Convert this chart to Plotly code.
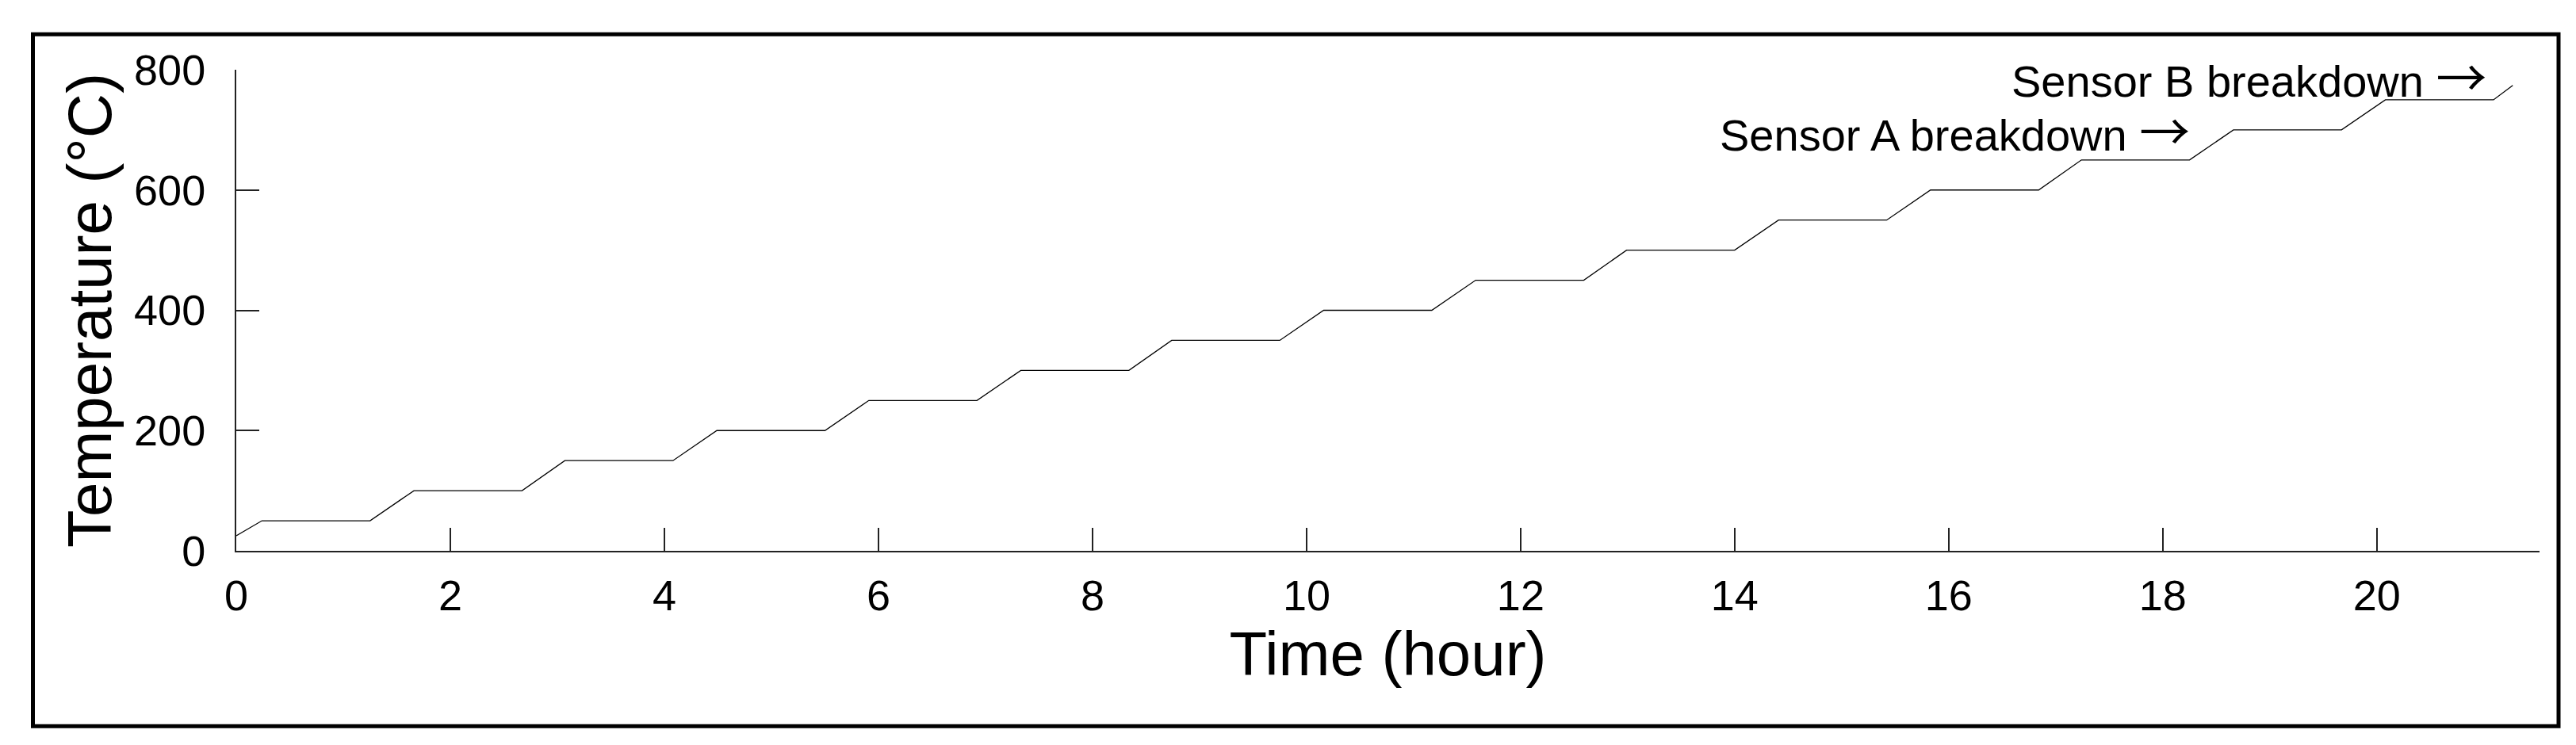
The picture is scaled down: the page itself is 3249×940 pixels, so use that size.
import plotly.graph_objects as go

# step-wise heating profile
time_hour = [0, 0.24, 1.25, 1.66, 2.67, 3.07, 4.08, 4.49, 5.50, 5.91, 6.92,
             7.33, 8.34, 8.74, 9.75, 10.16, 11.17, 11.58, 12.59, 12.99, 14.00,
             14.41, 15.42, 15.83, 16.84, 17.24, 18.25, 18.66, 19.67, 20.08, 21.09, 21.27]
temperature_c = [25, 50, 50, 100, 100, 150, 150, 200, 200, 250, 250,
                 300, 300, 350, 350, 400, 400, 450, 450, 500, 500,
                 550, 550, 600, 600, 650, 650, 700, 700, 750, 750, 774]

x_ticks = [0, 2, 4, 6, 8, 10, 12, 14, 16, 18, 20]
y_ticks = [0, 200, 400, 600, 800]

notes = ["Sensor A breakdown", "Sensor B breakdown"]
note_x = [18.27, 21.04]
note_y = [702, 792]

W, H = 3249, 940
L, R, T, B = 290, 54, 80, 253
FONT = "Liberation Sans, Arial, sans-serif"
ARROW = '<span style="font-family:Noto Sans CJK JP;font-size:64px">\u2192</span>'

fig = go.Figure()
fig.add_trace(go.Scatter(
    x=time_hour, y=temperature_c, mode="lines",
    line=dict(color="black", width=1.3), showlegend=False, hoverinfo="skip"
))

for txt, xv, yv in zip(notes, note_x, note_y):
    fig.add_annotation(x=xv, y=yv, text=txt + " " + ARROW, showarrow=False,
                       xanchor="right", yanchor="middle",
                       font=dict(family=FONT, size=56, color="black"))

# outer frame
pw, ph = W - L - R, H - T - B
fig.add_shape(type="rect", xref="paper", yref="paper",
              x0=(33.5 - L) / pw, x1=(3219 - L) / pw,
              y0=(H - B - 908.3) / ph, y1=(H - B - 35.3) / ph,
              line=dict(color="black", width=5), fillcolor="rgba(0,0,0,0)")

fig.update_layout(
    width=W, height=H,
    margin=dict(l=L, r=R, t=T, b=B, pad=0),
    paper_bgcolor="white", plot_bgcolor="white",
    font=dict(family=FONT, color="black"),
    xaxis=dict(
        range=[0, 21.52], tickvals=x_ticks, ticks="inside", ticklen=29,
        tickwidth=1.5, tickcolor="#222", showline=True, linecolor="#222",
        linewidth=2, showgrid=False, zeroline=False,
        tickfont=dict(size=54), ticklabelstandoff=8,
        title=dict(text="Time (hour)", font=dict(size=78), standoff=8),
    ),
    yaxis=dict(
        range=[0, 800], tickvals=y_ticks, ticks="inside", ticklen=29,
        tickwidth=1.5, tickcolor="#222", showline=True, linecolor="#222",
        linewidth=2, showgrid=False, zeroline=False,
        tickfont=dict(size=54), ticklabelstandoff=26,
        title=dict(text="Temperature (\u00b0C)", font=dict(size=78), standoff=3),
    ),
)

fig.write_html("out.html")
